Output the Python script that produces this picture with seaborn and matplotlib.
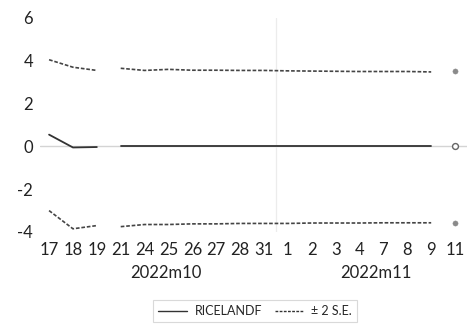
import matplotlib
matplotlib.use("Agg")
import matplotlib.pyplot as plt
import matplotlib.transforms as mtransforms
from matplotlib.lines import Line2D
import seaborn as sns
import pandas as pd
import numpy as np

dates = ["17", "18", "19", "21", "24", "25", "26", "27", "28", "31",
         "1", "2", "3", "4", "7", "8", "9", "11"]
response = [0.55, -0.05, -0.03, 0.0, 0.0, 0.0, 0.0, 0.0, 0.0, 0.0,
            0.0, 0.0, 0.0, 0.0, 0.0, 0.0, 0.0, 0.0]
upper = [4.05, 3.70, 3.55, 3.65, 3.55, 3.60, 3.56, 3.56, 3.55, 3.55,
         3.53, 3.52, 3.51, 3.50, 3.50, 3.50, 3.48, 3.50]
lower = [-3.00, -3.85, -3.70, -3.75, -3.65, -3.65, -3.62, -3.62, -3.60, -3.60,
         -3.60, -3.58, -3.58, -3.58, -3.57, -3.57, -3.57, -3.60]
segment = [1, 1, 1, 2, 2, 2, 2, 2, 2, 2, 2, 2, 2, 2, 2, 2, 2, 3]
months = ["2022m10", "2022m11"]
month_pos = [4.9, 13.7]
yticks = [-4, -2, 0, 2, 4, 6]

sns.set_theme(style="white")
plt.rcParams['font.family'] = ['Lato', 'DejaVu Sans']

pos = np.arange(len(dates))
df = pd.DataFrame({"pos": pos, "response": response, "upper": upper,
                   "lower": lower, "segment": segment})
lines_df = df[df["segment"] < 3]
last_df = df[df["segment"] == 3]

fig = plt.figure(figsize=(4.67, 3.25), dpi=100)
ax = fig.add_axes([40 / 467, 1 - 232 / 325, 1 - 40 / 467, (232 - 18) / 325])

ax.axhline(0, color="#d4d4d4", lw=1.0, zorder=1)
ax.axvline(9.5, color="#ececec", lw=0.9, zorder=1)

dark = "#333333"
dash = (0, (2.2, 1.1))
sns.lineplot(data=lines_df, x="pos", y="response", units="segment", estimator=None,
             color=dark, lw=1.3, ax=ax, zorder=3)
sns.lineplot(data=lines_df, x="pos", y="upper", units="segment", estimator=None,
             color="#444444", lw=1.2, linestyle=dash, ax=ax, zorder=3)
sns.lineplot(data=lines_df, x="pos", y="lower", units="segment", estimator=None,
             color="#444444", lw=1.2, linestyle=dash, ax=ax, zorder=3)

sns.scatterplot(data=last_df, x="pos", y="upper", color="#8a8a8a", s=14,
                edgecolor="#8a8a8a", ax=ax, zorder=4)
sns.scatterplot(data=last_df, x="pos", y="lower", color="#8a8a8a", s=14,
                edgecolor="#8a8a8a", ax=ax, zorder=4)
sns.scatterplot(data=last_df, x="pos", y="response", color="white", s=18,
                edgecolor="#666666", linewidth=1.0, ax=ax, zorder=4)

ax.set_xlim(-0.38, 17.5)
ax.set_ylim(-4, 6)
ax.set_yticks(yticks)
ax.set_yticklabels([str(v) for v in yticks], fontsize=12, color="#222222")
ax.set_xticks(pos)
ax.set_xticklabels(dates, fontsize=12, color="#222222")
ax.tick_params(axis="y", length=0, pad=5)
ax.tick_params(axis="x", length=0, pad=7)
ax.set_xlabel("")
ax.set_ylabel("")
for s in ax.spines.values():
    s.set_visible(False)

trans = mtransforms.blended_transform_factory(ax.transData, fig.transFigure)
for m, p in zip(months, month_pos):
    ax.text(p, 1 - 273 / 325, m, transform=trans, ha="center", va="center",
            fontsize=12, color="#222222")

handles = [Line2D([], [], color=dark, lw=1.0),
           Line2D([], [], color=dark, lw=1.0, linestyle=(0, (2, 1)))]
leg = fig.legend(handles, ["RICELANDF", "± 2 S.E."], loc="center",
                 bbox_to_anchor=(255 / 467, 1 - 311 / 325), ncol=2, fontsize=9,
                 frameon=True, fancybox=False, edgecolor="#d0d0d0",
                 handlelength=2.3, columnspacing=1.0, borderpad=0.4,
                 handletextpad=0.6)
leg.get_frame().set_linewidth(0.8)

fig.savefig("out.png", dpi=100)
